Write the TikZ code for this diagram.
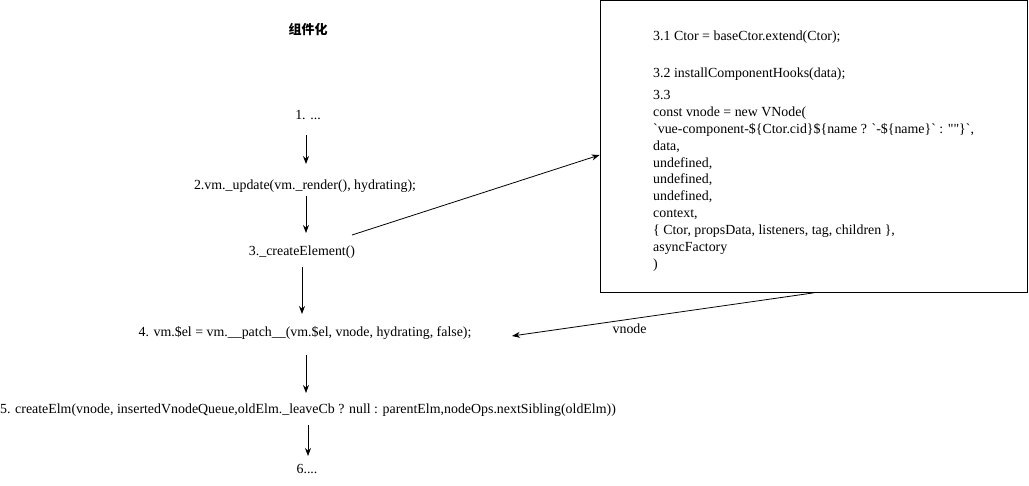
\documentclass[tikz,border=0pt]{standalone}
\usepackage{fontspec}
\setmainfont{Liberation Serif}
\newfontfamily\cjk{Noto Sans CJK SC}
\usepackage{tikz}
\usetikzlibrary{arrows.meta}
\usepackage{xcolor}

\begin{document}
\begin{tikzpicture}[x=1pt, y=-1pt, font=\fontsize{13.9}{16}\selectfont,
  flow/.style={-{Stealth[length=8pt,width=6pt]}, line width=0.8pt},
  code/.style={anchor=west, align=left, inner sep=0pt, font=\fontsize{13.9}{16.9}\selectfont}]
\useasboundingbox (0,0) rectangle (1029,486);

% 标题
\node (title) at (308,30) {\cjk\bfseries\fontsize{13}{15}\selectfont 组件化};

% 主流程
\node (s1) at (308,115) {1. ...};
\node (s2) at (305,186) {2.vm.\_update(vm.\_render(), hydrating);};
\node (s3) at (302,252) {3.\_createElement()};
\node (s4) at (305,333) {4. vm.\$el = vm.\_\_patch\_\_(vm.\$el, vnode, hydrating, false);};
\node (s5) at (308,410) {5. createElm(vnode, insertedVnodeQueue,oldElm.\_leaveCb ? null : parentElm,nodeOps.nextSibling(oldElm))};
\node (s6) at (307,469) {6....};

\draw[flow] (306,135) -- (306,164);
\draw[flow] (306,196) -- (306,233);
\draw[flow] (302,267) -- (302,314);
\draw[flow] (306,355) -- (306,393);
\draw[flow] (308,425) -- (308,456);

% 组件 VNode
\node[draw, line width=0.8pt, minimum width=427pt, minimum height=292pt, inner sep=0pt] (box) at (813.5,146.5) {};
\node[code] (t31) at (653,37) {3.1 Ctor = baseCtor.extend(Ctor);};
\node[code] (t32) at (653,74) {3.2 installComponentHooks(data);};
\node[code, anchor=north west] (t33) at (653,90) {3.3\\
const vnode = new VNode(\\
\textasciigrave vue-component-\$\{Ctor.cid\}\$\{name ? \textasciigrave-\$\{name\}\textasciigrave\ : \textquotedbl\textquotedbl\}\textasciigrave,\\
data,\\
undefined,\\
undefined,\\
undefined,\\
context,\\
\{ Ctor, propsData, listeners, tag, children \},\\
asyncFactory\\
)};

% 连线
\coordinate (out3) at (352,235);
\coordinate (in4) at (512,336);
\draw[flow] (out3) -- (box.west |- 0,155);
\draw[flow] (box.south) -- (in4) node[pos=0.61, below=1pt] {vnode};
\end{tikzpicture}
\end{document}
